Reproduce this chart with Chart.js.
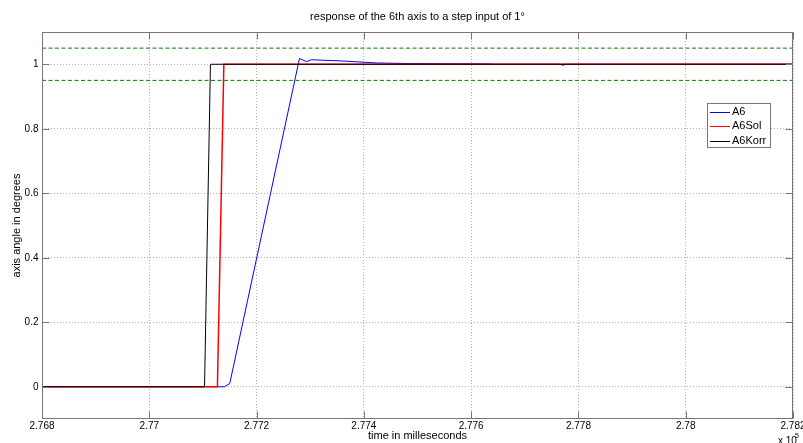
<!DOCTYPE html>
<html>
<head>
<meta charset="utf-8">
<script src="https://cdn.jsdelivr.net/npm/chart.js@4/dist/chart.umd.min.js"></script>
<style>
  html, body { margin: 0; padding: 0; background: #fff; }
  #wrap { width: 803px; height: 443px; position: relative; }
</style>
</head>
<body>
<div id="wrap"><canvas id="c" width="803" height="443"></canvas></div>
<script>
// ---- data ----
const a6Time   = [276800, 277140, 277150, 277280, 277293, 277302, 277361, 277424, 277491, 277635, 277640, 277765, 277771, 277777, 278200];
const a6Angle  = [0,      0,      0.01,   1.018,  1.008,  1.014,  1.010,  1.004,  1.002,  1.001,  1,      1,      0.997,  1,      1];
const a6SolTime  = [276800, 277127, 277139, 278200];
const a6SolAngle = [0,      0,      1,      1];
const a6KorrTime  = [276800, 277103, 277114, 278200];
const a6KorrAngle = [0,      0,      1,      1];
const bandTime   = [276800, 278200];
const upperBand  = [1.05, 1.05];
const lowerBand  = [0.95, 0.95];
const xTickValues = [276800, 277000, 277200, 277400, 277600, 277800, 278000, 278200];
const xTickLabels = ['2.768', '2.77', '2.772', '2.774', '2.776', '2.778', '2.78', '2.782'];
const yTickValues = [0, 0.2, 0.4, 0.6, 0.8, 1];
const yTickLabels = ['0', '0.2', '0.4', '0.6', '0.8', '1'];
const seriesNames = ['A6', 'A6Sol', 'A6Korr'];
const seriesColors = ['#0000ff', '#ff0000', '#000000'];

const zip = (xs, ys) => xs.map((x, i) => ({x: x, y: ys[i]}));
const FONT = "'Liberation Sans', Arial, Helvetica, sans-serif";

const frameColor = '#777777';

const decorPlugin = {
  id: 'decor',
  afterLayout(chart) {
    const ca = chart.chartArea;
    if (chart.titleBlock) {
      chart.titleBlock.left = ca.left;
      chart.titleBlock.right = ca.right;
    }
  },
  afterDraw(chart) {
    const ctx = chart.ctx;
    const ca = chart.chartArea;
    const xs = chart.scales.x, ys = chart.scales.y;
    const L = Math.round(ca.left) + 0.5, R = Math.round(ca.right) - 0.5;
    const T = Math.round(ca.top) + 0.5, B = Math.round(ca.bottom) - 0.5;
    ctx.save();
    ctx.strokeStyle = frameColor;
    ctx.lineWidth = 1;
    ctx.setLineDash([]);
    ctx.strokeRect(L, T, R - L, B - T);
    const tl = 7;
    ctx.beginPath();
    xTickValues.forEach(v => {
      const px = Math.round(xs.getPixelForValue(v)) + 0.5;
      ctx.moveTo(px, B); ctx.lineTo(px, B - tl);
      ctx.moveTo(px, T); ctx.lineTo(px, T + tl);
    });
    yTickValues.forEach(v => {
      const py = Math.round(ys.getPixelForValue(v)) + 0.5;
      ctx.moveTo(L, py); ctx.lineTo(L + tl, py);
      ctx.moveTo(R, py); ctx.lineTo(R - tl, py);
    });
    ctx.stroke();

    // legend box
    const bx = 707.5, by = 103.5, bw = 63, bh = 44;
    ctx.fillStyle = '#ffffff';
    ctx.fillRect(bx, by, bw, bh);
    ctx.strokeStyle = frameColor;
    ctx.strokeRect(bx, by, bw, bh);
    ctx.font = '11px ' + FONT;
    ctx.textBaseline = 'middle';
    ctx.textAlign = 'left';
    for (let i = 0; i < 3; i++) {
      const ds = chart.data.datasets[i];
      const yy = 111.5 + i * 14.5;
      ctx.strokeStyle = ds.borderColor;
      ctx.lineWidth = 1;
      ctx.beginPath();
      ctx.moveTo(710, Math.round(yy) + 0.5);
      ctx.lineTo(730, Math.round(yy) + 0.5);
      ctx.stroke();
      ctx.fillStyle = '#000';
      ctx.fillText(ds.label, 732, yy);
    }

    // exponent label
    ctx.fillStyle = '#000';
    ctx.font = '10px ' + FONT;
    ctx.textBaseline = 'alphabetic';
    ctx.fillText('x 10', 778, 444);
    ctx.font = '7px ' + FONT;
    ctx.fillText('5', 795, 438);
    ctx.restore();
  }
};

const lineDs = (label, xs, ys, color, width, order) => ({
  label: label,
  data: zip(xs, ys),
  borderColor: color,
  backgroundColor: color,
  borderWidth: width,
  pointRadius: 0,
  tension: 0,
  fill: false,
  order: order
});

new Chart(document.getElementById('c'), {
  type: 'line',
  data: {
    datasets: [
      lineDs(seriesNames[0], a6Time, a6Angle, seriesColors[0], 1, 3),
      lineDs(seriesNames[1], a6SolTime, a6SolAngle, seriesColors[1], 1.5, 2),
      lineDs(seriesNames[2], a6KorrTime, a6KorrAngle, seriesColors[2], 1, 1),
      Object.assign(lineDs('upper', bandTime, upperBand, '#008000', 1, 0), {borderDash: [4, 2.5]}),
      Object.assign(lineDs('lower', bandTime, lowerBand, '#008000', 1, 0), {borderDash: [4, 2.5]})
    ]
  },
  options: {
    responsive: false,
    animation: false,
    devicePixelRatio: 1,
    layout: { padding: { left: 0, right: 10, top: 0, bottom: 0 } },
    plugins: {
      legend: { display: false },
      tooltip: { enabled: false },
      title: {
        display: true,
        text: 'response of the 6th axis to a step input of 1°',
        color: '#000',
        font: { family: FONT, size: 11, weight: 'normal', lineHeight: 1.2 },
        padding: { top: 10, bottom: 8.8 }
      }
    },
    scales: {
      x: {
        type: 'linear',
        min: 276800,
        max: 278200,
        afterBuildTicks: s => { s.ticks = xTickValues.map(v => ({value: v})); },
        afterFit: s => { s.height = 24; s.paddingLeft = 0; s.paddingRight = 0; },
        ticks: {
          autoSkip: false,
          maxRotation: 0,
          padding: 1.5,
          color: '#000',
          font: { family: FONT, size: 10 },
          callback: (v) => { const i = xTickValues.indexOf(v); return i >= 0 ? xTickLabels[i] : ''; }
        },
        grid: { color: '#b0b0b0', drawTicks: false, lineWidth: 1 },
        border: { display: false, dash: [1, 2] },
        title: {
          display: true,
          text: 'time in milleseconds',
          color: '#000',
          font: { family: FONT, size: 11 },
          padding: { top: 0, bottom: 0.5 }
        }
      },
      y: {
        type: 'linear',
        min: -0.1,
        max: 1.1,
        afterBuildTicks: s => { s.ticks = yTickValues.map(v => ({value: v})); },
        afterFit: s => { s.width = 42; s.paddingTop = 0; s.paddingBottom = 0; },
        ticks: {
          padding: 3.5,
          color: '#000',
          font: { family: FONT, size: 10 },
          callback: (v) => { const i = yTickValues.findIndex(t => Math.abs(t - v) < 1e-9); return i >= 0 ? yTickLabels[i] : ''; }
        },
        grid: { color: '#b0b0b0', drawTicks: false, lineWidth: 1 },
        border: { display: false, dash: [1, 2] },
        title: {
          display: true,
          text: 'axis angle in degrees',
          color: '#000',
          font: { family: FONT, size: 11 },
          padding: { top: 10, bottom: 0 }
        }
      }
    }
  },
  plugins: [decorPlugin]
});
</script>
</body>
</html>
